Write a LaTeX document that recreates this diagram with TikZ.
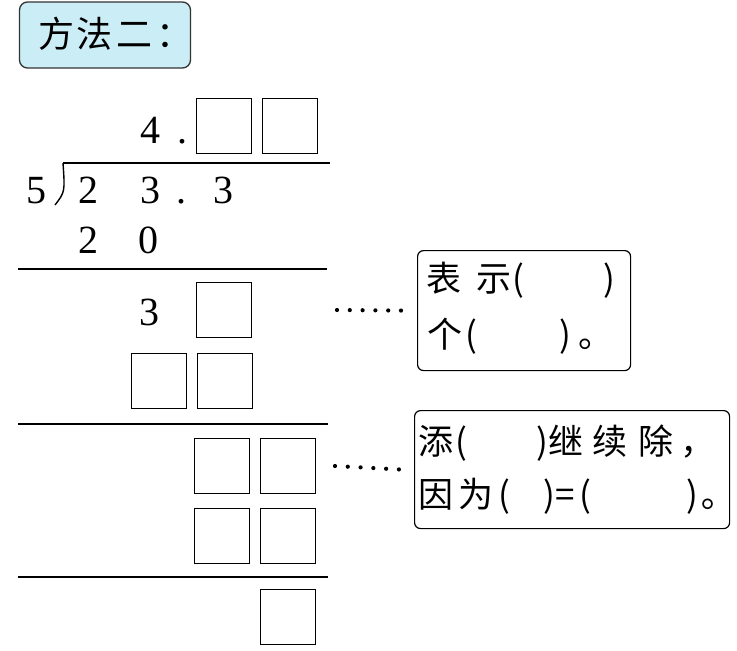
\documentclass[tikz,border=0pt]{standalone}
\usepackage{fontspec}
\setmainfont{Liberation Serif}
\newfontfamily\cjk{Noto Sans CJK SC}
\usetikzlibrary{positioning}

\definecolor{tipblue}{HTML}{CBEDF6}

\begin{document}
\begin{tikzpicture}[x=1pt, y=-1pt,
  digit/.style={anchor=base, inner sep=0pt, font=\fontsize{40}{46}\selectfont},
  blank/.style={draw, line width=1.2pt, minimum size=55pt, inner sep=0pt},
  rule/.style={line width=1.4pt},
  note/.style={draw, rounded corners=6pt, line width=1.2pt, inner sep=0pt},
  words/.style={anchor=base west, inner sep=0pt, font=\cjk\fontsize{35}{40}\selectfont},
  leader/.style={line width=4.2pt, line cap=round, dash pattern=on 0pt off 12.8pt}]
\useasboundingbox (0,0) rectangle (737,651);

% title
\node[draw=black!80, fill=tipblue, rounded corners=8pt, line width=1.3pt,
  minimum width=171pt, minimum height=66pt] (title) at (105,35) {};
\node[anchor=west, inner sep=0pt, font=\cjk\fontsize{36}{40}\selectfont]
  (titletext) at (38,34) {方\hspace{2pt}法\hspace{4pt}二\hspace{4pt}\rlap{：}};

% quotient
\node[digit] (q4) at (150,143) {4};
\node[digit] (qdot) at (182,143) {.};
\node[blank, anchor=north west] (qa) at (196,98) {};
\node[blank, right=10pt of qa] (qb) {};

% divisor and dividend
\coordinate (bar) at (63,163);
\draw[rule] (bar) -- (330,163);
\draw[rule] (bar) .. controls (65,192) .. (55,205);
\node[digit] (d5) at (36,203) {5};
\node[digit] (n2) at (88,203) {2};
\node[digit] (n3) at (150,203) {3};
\node[digit] (ndot) at (181,203) {.};
\node[digit] (n33) at (223,203) {3};

% first step
\node[digit] (s2) at (88,253) {2};
\node[digit] (s0) at (148,253) {0};
\draw[rule] (18,269) -- (327,269);

\node[digit] (r3) at (149,325) {3};
\node[blank, anchor=north west] (ra) at (196,282) {};
\node[blank, anchor=north west] (pa) at (131,353) {};
\node[blank, right=10pt of pa] (pb) {};
\draw[rule] (18,424) -- (328,424);

% second step
\node[blank, anchor=north west] (ta) at (194,438) {};
\node[blank, right=10pt of ta] (tb) {};
\node[blank, below=14pt of ta] (ua) {};
\node[blank, right=10pt of ua] (ub) {};
\draw[rule] (18,577) -- (328,577);
\node[blank, anchor=north west] (last) at (260,589) {};

% notes
\node[note, minimum width=213pt, minimum height=120pt, anchor=north west] (noteA) at (417,250) {};
\node[words] (la1) at (426,291) {表\hspace{15pt}示\hspace{1pt}(\hspace{79pt})};
\node[words] (la2) at (427,347) {个\hspace{3pt}(\hspace{82pt})\hspace{8pt}\rlap{。}};
\coordinate (dotsA) at (337,310);
\draw[leader] (dotsA) -- ([xshift=-14pt]noteA.west);

\node[note, minimum width=315pt, minimum height=118pt, anchor=north west] (noteB) at (414,410) {};
\node[words] (lb1) at (418,454) {添\hspace{2pt}(\hspace{69pt})\hspace{1pt}继\hspace{9pt}续\hspace{11pt}除\hspace{7pt}\rlap{，}};
\node[words] (lb2) at (418,507) {因\hspace{5pt}为\hspace{5pt}(\hspace{33pt})\hspace{1pt}=\hspace{4pt}(\hspace{95pt})\hspace{4pt}｡};
\coordinate (dotsB) at (335,466);
\draw[leader] (dotsB) -- ([xshift=-12pt]noteB.west);

\end{tikzpicture}
\end{document}
